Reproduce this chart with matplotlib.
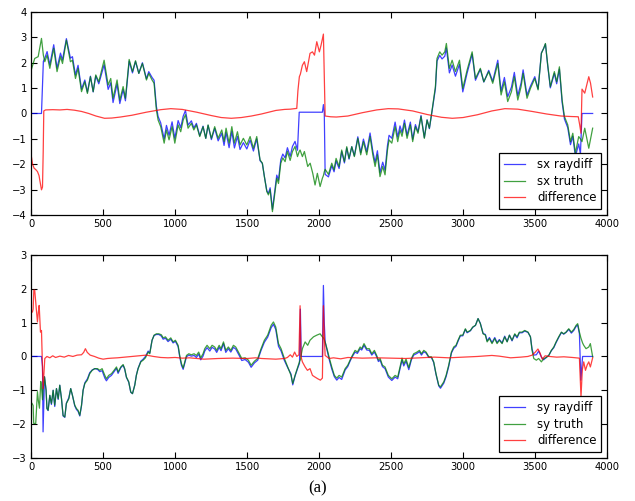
# Import packages
import numpy as np
import matplotlib
matplotlib.use("Agg")
import matplotlib.pyplot as plt

# Data
#--------------------------------------------------------------------
# top panel (sx)
sx_t = [0, 25, 49, 72, 85, 95, 111, 130, 157, 180, 204, 218, 245, 273, 287, 308, 326, 350, 373, 391,
        412, 431, 449, 470, 507, 535, 553, 569, 597, 616, 639, 655, 681, 704, 725, 748, 773, 801, 817, 840,
        854, 870, 882, 900, 924, 940, 958, 979, 998, 1021, 1039, 1056, 1072, 1090, 1113, 1130, 1148, 1171, 1194, 1213,
        1229, 1252, 1275, 1299, 1324, 1340, 1354, 1375, 1394, 1412, 1433, 1451, 1474, 1498, 1521, 1544, 1567, 1590, 1606, 1620,
        1637, 1648, 1660, 1676, 1690, 1706, 1718, 1734, 1748, 1764, 1780, 1799, 1815, 1833, 1850, 1862, 1868, 1884, 1898, 1921,
        1938, 1956, 1972, 1988, 2007, 2023, 2030, 2036, 2042, 2065, 2088, 2104, 2118, 2139, 2157, 2176, 2192, 2208, 2227, 2245,
        2269, 2289, 2308, 2331, 2354, 2373, 2389, 2405, 2423, 2442, 2458, 2475, 2486, 2505, 2528, 2546, 2562, 2576, 2593, 2611,
        2634, 2650, 2669, 2687, 2708, 2731, 2750, 2766, 2785, 2808, 2819, 2838, 2854, 2873, 2884, 2905, 2924, 2947, 2975, 2998,
        3028, 3063, 3086, 3120, 3144, 3178, 3206, 3241, 3264, 3287, 3310, 3336, 3356, 3380, 3403, 3417, 3444, 3468, 3498, 3521,
        3544, 3560, 3572, 3588, 3606, 3634, 3650, 3669, 3688, 3704, 3727, 3746, 3762, 3780, 3803, 3815, 3826, 3845, 3873, 3900]
sx_truth = [1.7, 2.17, 2.24, 2.96, 2.3, 2.04, 2.3, 1.78, 2.57, 1.65, 2.24, 1.97, 2.89, 2.04, 2.1, 1.38, 1.78, 0.86, 1.25, 0.79,
            1.45, 0.86, 1.52, 1.25, 2.1, 1.12, 1.38, 0.6, 1.32, 0.53, 1.06, 0.6, 2.13, 1.65, 2.08, 1.58, 1.97, 1.32, 1.58, 1.32,
            1.19, 0.14, -0.26, -0.52, -1.17, -0.65, -1.04, -0.52, -1.17, -0.45, -0.72, -0.26, -0.05, -0.58, -0.39, -0.65, -0.45, -0.91, -0.52, -0.98,
            -0.45, -0.98, -0.52, -0.98, -0.65, -1.1, -0.58, -1.17, -0.52, -1.17, -0.72, -1.24, -0.98, -1.24, -0.91, -1.37, -0.91, -1.83, -1.96, -2.49,
            -3.08, -3.21, -3.01, -3.87, -3.27, -2.55, -2.76, -1.96, -1.75, -1.9, -1.5, -1.85, -1.5, -1.3, -1.7, -1.5, -1.44, -1.7, -1.5, -2.09,
            -1.96, -2.36, -2.82, -2.36, -2.88, -2.55, -2.45, -2.3, -2.2, -2.4, -1.96, -2.22, -1.77, -2.09, -1.44, -1.9, -1.31, -1.77, -1.31, -1.7,
            -0.98, -1.63, -1.11, -1.63, -0.91, -1.63, -2.09, -1.63, -2.49, -2.09, -2.42, -1.44, -1.04, -1.17, -0.52, -1.11, -0.65, -0.9, -0.39, -0.98,
            -0.45, -1.11, -0.52, -0.78, -0.12, -0.98, -0.26, -0.58, 0.14, 1.06, 2.17, 2.43, 2.3, 2.43, 2.76, 1.78, 2.1, 1.65, 2.1, 0.99,
            1.71, 2.43, 1.38, 1.78, 1.25, 1.65, 1.19, 1.97, 0.73, 1.25, 0.47, 0.86, 1.45, 0.53, 1.06, 1.58, 0.6, 0.99, 1.38, 0.93,
            2.37, 2.57, 2.76, 1.91, 1.06, 1.65, 1.25, 1.84, 0.53, -0.12, -0.45, -1.11, -0.78, -1.57, -0.91, -1.0, -1.11, -0.58, -1.37, -0.58]
sx_raydiff = [0, 0, 0, 0, 2.05, 2.18, 2.44, 1.92, 2.71, 1.79, 2.38, 2.11, 2.95, 2.18, 2.24, 1.52, 1.9, 0.96, 1.32, 0.84,
              1.47, 0.85, 1.48, 1.17, 1.92, 0.95, 1.21, 0.43, 1.16, 0.39, 0.94, 0.5, 2.06, 1.6, 2.05, 1.58, 2.0, 1.37, 1.65, 1.42,
              1.31, 0.28, -0.12, -0.37, -1.0, -0.47, -0.86, -0.33, -0.98, -0.28, -0.56, -0.11, 0.12, -0.46, -0.29, -0.57, -0.39, -0.88, -0.5, -0.98,
              -0.47, -1.03, -0.59, -1.08, -0.78, -1.26, -0.75, -1.35, -0.71, -1.36, -0.9, -1.42, -1.15, -1.4, -1.05, -1.48, -1.0, -1.86, -1.97, -2.48,
              -3.05, -3.15, -2.93, -3.78, -3.16, -2.43, -2.63, -1.82, -1.6, -1.75, -1.35, -1.69, -1.3, -1.1, -1.45, 0.05, 0.05, 0.05, 0.05, 0.05,
              0.05, 0.05, 0.05, 0.05, 0.05, 0.05, 0.35, 0.05, -2.4, -2.5, -2.06, -2.3, -1.87, -2.17, -1.5, -1.95, -1.36, -1.8, -1.31, -1.67,
              -0.92, -1.55, -1.01, -1.51, -0.77, -1.48, -1.93, -1.47, -2.33, -1.92, -2.24, -1.26, -0.86, -0.98, -0.34, -0.93, -0.49, -0.75, -0.26, -0.86,
              -0.34, -1.02, -0.44, -0.72, -0.08, -0.95, -0.25, -0.6, 0.1, 0.98, 2.07, 2.29, 2.15, 2.26, 2.58, 1.6, 1.91, 1.47, 1.94, 0.85,
              1.59, 2.34, 1.31, 1.74, 1.24, 1.7, 1.27, 2.1, 0.88, 1.42, 0.66, 1.04, 1.62, 0.7, 1.21, 1.72, 0.72, 1.08, 1.45, 0.97,
              2.39, 2.57, 2.74, 1.87, 1.01, 1.58, 1.17, 1.75, 0.43, -0.22, -0.56, -1.23, -0.9, -1.7, -1.2, -1.6, 0.0, 0.0, 0.0, 0.0]
sx_d = [0, 10, 21, 30, 44, 55, 60, 72, 79, 84, 88, 100, 150, 200, 250, 300, 350, 400, 450, 510,
        560, 620, 700, 800, 900, 970, 1050, 1150, 1250, 1320, 1390, 1460, 1530, 1600, 1700, 1760, 1800, 1845, 1853, 1863,
        1870, 1884, 1898, 1914, 1937, 1954, 1968, 1984, 2002, 2014, 2030, 2036, 2042, 2080, 2120, 2200, 2300, 2400, 2480, 2550,
        2650, 2750, 2850, 2925, 3000, 3100, 3200, 3290, 3380, 3480, 3580, 3680, 3750, 3800, 3810, 3819, 3826, 3845, 3860, 3873,
        3885, 3900]
sx_diff = [-1.63, -2.0, -2.16, -2.2, -2.29, -2.45, -2.62, -3.01, -2.9, -1.5, 0.1, 0.14, 0.15, 0.14, 0.16, 0.13, 0.08, 0.0, -0.1, -0.19,
           -0.18, -0.14, -0.07, 0.05, 0.15, 0.19, 0.16, 0.05, -0.08, -0.16, -0.19, -0.16, -0.1, -0.02, 0.12, 0.16, 0.17, 0.2, 0.9, 1.45,
           1.55, 1.9, 2.04, 1.65, 2.37, 2.43, 2.3, 2.83, 2.43, 2.7, 3.13, 1.5, -0.1, -0.13, -0.14, -0.1, 0.03, 0.14, 0.19, 0.18,
           0.1, -0.04, -0.15, -0.19, -0.16, -0.05, 0.1, 0.19, 0.17, 0.08, -0.02, -0.1, -0.12, -0.13, -0.45, -0.78, 0.96, 0.8, 1.15, 1.45,
           1.2, 0.65]

# bottom panel (sy)
sy_t = [0, 5, 14, 18, 32, 44, 50, 58, 67, 72, 79, 83, 93, 104, 110, 118, 130, 141, 153, 164,
        176, 188, 199, 211, 222, 234, 245, 262, 275, 287, 303, 315, 326, 338, 350, 361, 373, 391, 407, 424,
        442, 461, 477, 493, 512, 523, 539, 558, 576, 593, 604, 623, 639, 650, 662, 678, 692, 704, 720, 731,
        743, 762, 778, 794, 813, 824, 840, 854, 870, 887, 905, 917, 933, 951, 970, 986, 1002, 1021, 1032, 1044,
        1056, 1067, 1079, 1095, 1113, 1132, 1148, 1164, 1178, 1194, 1206, 1222, 1241, 1257, 1275, 1289, 1306, 1319, 1336, 1352,
        1370, 1387, 1405, 1421, 1440, 1463, 1486, 1509, 1528, 1551, 1574, 1597, 1620, 1643, 1667, 1683, 1699, 1718, 1736, 1759,
        1782, 1805, 1817, 1833, 1852, 1864, 1870, 1876, 1884, 1903, 1921, 1937, 1961, 1984, 2007, 2023, 2030, 2036, 2042, 2058,
        2072, 2088, 2106, 2123, 2139, 2157, 2181, 2199, 2215, 2231, 2250, 2266, 2285, 2296, 2312, 2331, 2349, 2366, 2384, 2400,
        2412, 2424, 2440, 2458, 2481, 2505, 2528, 2546, 2562, 2576, 2588, 2604, 2623, 2641, 2657, 2680, 2697, 2711, 2727, 2743,
        2762, 2780, 2796, 2812, 2831, 2843, 2866, 2882, 2900, 2919, 2935, 2951, 2965, 2981, 2998, 3016, 3028, 3051, 3067, 3086,
        3104, 3120, 3139, 3155, 3167, 3183, 3201, 3220, 3236, 3252, 3271, 3289, 3306, 3322, 3340, 3359, 3375, 3391, 3410, 3428,
        3451, 3468, 3479, 3491, 3509, 3525, 3544, 3560, 3576, 3595, 3613, 3630, 3646, 3664, 3683, 3699, 3715, 3734, 3752, 3769,
        3785, 3796, 3808, 3818, 3830, 3838, 3854, 3873, 3884, 3900]
sy_truth = [-1.4, -1.38, -1.45, -1.98, -1.98, -1.04, -1.3, -1.53, -0.74, -0.9, -1.28, -1.0, -0.6, -1.0, -1.54, -1.59, -1.15, -1.39, -1.0, -1.44,
            -0.95, -1.25, -0.85, -1.25, -1.74, -1.79, -1.39, -1.25, -0.95, -1.15, -1.44, -1.54, -1.59, -1.74, -1.44, -1.0, -0.8, -0.7, -0.51, -0.41,
            -0.36, -0.36, -0.41, -0.36, -0.56, -0.66, -0.56, -0.51, -0.41, -0.31, -0.46, -0.31, -0.24, -0.36, -0.61, -0.75, -1.05, -1.1, -0.85, -0.56,
            -0.36, -0.16, -0.11, -0.04, 0.13, 0.08, 0.48, 0.63, 0.67, 0.67, 0.64, 0.55, 0.58, 0.48, 0.55, 0.43, 0.48, 0.33, 0.03, -0.21,
            -0.34, -0.16, 0.03, 0.08, 0.05, 0.08, 0.03, 0.13, -0.04, 0.08, 0.23, 0.33, 0.23, 0.33, 0.28, 0.18, 0.33, 0.23, 0.43, 0.18,
            0.28, 0.18, 0.33, 0.28, 0.13, -0.06, -0.04, -0.11, -0.26, -0.14, -0.06, 0.23, 0.48, 0.63, 0.92, 1.02, 0.87, 0.38, 0.23, -0.06,
            -0.31, -0.56, -0.8, -0.56, -0.31, -0.15, -0.1, 0.05, 0.23, 0.43, 0.33, 0.48, 0.58, 0.63, 0.67, 0.58, 0.55, 0.5, 0.43, 0.18,
            -0.06, -0.31, -0.56, -0.64, -0.56, -0.61, -0.36, -0.26, -0.11, 0.03, 0.18, 0.13, 0.28, 0.23, 0.38, 0.23, 0.23, 0.08, 0.18, 0.03,
            -0.11, -0.06, -0.26, -0.31, -0.56, -0.66, -0.56, -0.61, -0.31, -0.05, -0.22, -0.08, -0.33, -0.06, 0.08, 0.13, 0.18, 0.08, 0.18, 0.13,
            -0.01, -0.01, -0.16, -0.51, -0.85, -0.9, -0.75, -0.56, -0.26, 0.13, 0.28, 0.33, 0.48, 0.63, 0.63, 0.82, 0.72, 0.77, 0.87, 0.92,
            1.12, 0.97, 0.67, 0.63, 0.43, 0.53, 0.38, 0.53, 0.38, 0.48, 0.38, 0.58, 0.43, 0.63, 0.48, 0.67, 0.58, 0.72, 0.72, 0.77,
            0.72, 0.58, 0.18, -0.06, -0.11, -0.06, -0.16, -0.06, -0.04, 0.03, 0.18, 0.28, 0.43, 0.58, 0.72, 0.67, 0.72, 0.82, 0.72, 0.8,
            0.92, 0.97, 0.72, 0.55, 0.4, 0.33, 0.23, 0.28, 0.38, -0.01]
sy_raydiff = [0, 0, 0, 0, 0, 0, 0, 0, 0, 0, -0.3, -2.23, -0.6, -1.0, -1.54, -1.6, -1.15, -1.42, -1.0, -1.48,
              -0.95, -1.27, -0.85, -1.25, -1.76, -1.8, -1.38, -1.22, -0.95, -1.15, -1.46, -1.57, -1.62, -1.76, -1.46, -1.0, -0.78, -0.66, -0.48, -0.4,
              -0.36, -0.38, -0.45, -0.42, -0.64, -0.72, -0.62, -0.56, -0.45, -0.35, -0.5, -0.33, -0.26, -0.38, -0.62, -0.76, -1.06, -1.1, -0.84, -0.55,
              -0.35, -0.14, -0.08, 0.0, 0.16, 0.1, 0.48, 0.62, 0.65, 0.65, 0.6, 0.51, 0.54, 0.44, 0.51, 0.4, 0.45, 0.29, -0.01, -0.26,
              -0.38, -0.2, -0.01, 0.04, 0.01, 0.03, -0.03, 0.07, -0.1, 0.01, 0.16, 0.26, 0.16, 0.27, 0.22, 0.12, 0.27, 0.17, 0.38, 0.12,
              0.23, 0.13, 0.27, 0.22, 0.07, -0.12, -0.09, -0.17, -0.32, -0.19, -0.11, 0.18, 0.42, 0.57, 0.85, 0.95, 0.8, 0.3, 0.16, -0.12,
              -0.33, -0.52, -0.84, -0.58, -0.34, -0.2, 1.4, 0.0, 0.0, 0.0, 0.0, 0.0, 0.0, 0.0, 0.0, 0.0, 2.1, 1.0, 0.43, 0.13,
              -0.12, -0.37, -0.6, -0.7, -0.62, -0.68, -0.4, -0.3, -0.14, 0.0, 0.13, 0.09, 0.23, 0.19, 0.33, 0.19, 0.18, 0.04, 0.13, -0.01,
              -0.15, -0.11, -0.3, -0.36, -0.61, -0.71, -0.61, -0.66, -0.36, -0.11, -0.28, -0.14, -0.39, -0.1, 0.04, 0.09, 0.14, 0.04, 0.14, 0.1,
              -0.03, -0.03, -0.18, -0.53, -0.87, -0.94, -0.79, -0.6, -0.3, 0.1, 0.24, 0.3, 0.45, 0.61, 0.61, 0.8, 0.7, 0.76, 0.86, 0.92,
              1.12, 0.98, 0.68, 0.65, 0.46, 0.56, 0.41, 0.56, 0.41, 0.5, 0.4, 0.6, 0.44, 0.63, 0.46, 0.65, 0.55, 0.7, 0.7, 0.75,
              0.71, 0.58, 0.22, 0.04, 0.05, 0.16, -0.02, -0.1, -0.03, 0.03, 0.17, 0.26, 0.41, 0.56, 0.71, 0.66, 0.71, 0.8, 0.69, 0.77,
              0.89, 0.93, 0.67, -0.7, 0.0, 0.0, 0.0, 0.0, 0.0, 0.0]
sy_d = [0, 9, 14, 19, 25, 37, 44, 50, 56, 65, 72, 83, 95, 110, 130, 150, 170, 200, 230, 260,
        290, 320, 350, 365, 377, 390, 410, 440, 470, 500, 530, 560, 600, 650, 700, 750, 800, 850, 900, 950,
        1000, 1050, 1100, 1150, 1200, 1300, 1400, 1500, 1560, 1600, 1700, 1760, 1780, 1800, 1815, 1830, 1845, 1860, 1868, 1874,
        1884, 1903, 1919, 1937, 1954, 1972, 1991, 2009, 2023, 2030, 2036, 2042, 2070, 2100, 2150, 2200, 2300, 2400, 2500, 2600,
        2700, 2800, 2900, 3000, 3100, 3200, 3250, 3330, 3400, 3450, 3480, 3500, 3520, 3535, 3550, 3570, 3600, 3650, 3700, 3760,
        3808, 3819, 3828, 3838, 3850, 3862, 3873, 3884, 3900]
sy_diff = [1.36, 1.31, 1.4, 1.96, 1.96, 1.36, 1.02, 1.3, 1.51, 0.72, 0.77, -0.95, -0.06, 0.0, -0.04, 0.02, -0.03, 0.01, -0.02, 0.03,
           0.0, 0.04, 0.05, 0.12, 0.23, 0.12, 0.04, 0.0, -0.05, -0.08, -0.06, -0.05, -0.04, -0.02, 0.0, 0.02, 0.04, 0.0, -0.03, -0.04,
           -0.03, -0.05, -0.04, -0.06, -0.08, -0.06, -0.05, -0.06, -0.04, -0.06, -0.08, -0.06, -0.03, 0.05, -0.02, 0.13, 0.0, 0.05, 1.5, 0.0,
           -0.16, -0.31, -0.41, -0.36, -0.56, -0.61, -0.66, -0.7, -0.64, 1.5, 0.6, 0.03, -0.06, -0.04, -0.07, -0.03, -0.05, -0.04, -0.05, -0.06,
           -0.04, -0.02, -0.04, -0.02, 0.0, 0.03, 0.01, -0.04, -0.02, 0.0, 0.04, 0.12, 0.22, 0.1, -0.08, 0.02, 0.0, -0.02, -0.01, -0.03,
           -0.05, -1.2, -0.4, -0.16, -0.41, -0.25, -0.16, -0.31, -0.04]

x_ticks = [0, 500, 1000, 1500, 2000, 2500, 3000, 3500, 4000]

# Visualization
#--------------------------------------------------------------------
fig = plt.figure(figsize=(6.35, 5.01), dpi=100)
ax1 = fig.add_axes([0.049, 0.571, 0.907, 0.405])
ax2 = fig.add_axes([0.049, 0.086, 0.907, 0.405])

panels = [(ax1, sx_t, sx_raydiff, sx_truth, sx_d, sx_diff, "sx", (-4, 4)),
          (ax2, sy_t, sy_raydiff, sy_truth, sy_d, sy_diff, "sy", (-3, 3))]

for ax, t, ray, truth, d, diff, name, ylim in panels:
    ax.plot(t, ray, color="b", lw=0.9, alpha=0.75, label=name + " raydiff")
    ax.plot(t, truth, color="g", lw=0.9, alpha=0.75, label=name + " truth")
    ax.plot(d, diff, color="r", lw=0.9, alpha=0.75, label="difference")
    ax.set_xlim(0, 4000)
    ax.set_ylim(*ylim)
    ax.set_xticks(x_ticks)
    ax.set_yticks(range(ylim[0], ylim[1] + 1))
    ax.tick_params(direction="in", top=True, right=True, length=4, labelsize=7.2, pad=3)
    for s in ax.spines.values():
        s.set_linewidth(0.9)
    leg = ax.legend(loc="lower right", fontsize=8.5, fancybox=False, framealpha=1,
                    edgecolor="black", handlelength=1.8, handletextpad=1.0,
                    borderaxespad=0.5, labelspacing=0.3, borderpad=0.4)
    leg.get_frame().set_linewidth(0.9)

fig.text(0.5, 0.026, "(a)", ha="center", va="center", fontsize=12, family="Liberation Serif")

fig.savefig("out.png", dpi=100)
